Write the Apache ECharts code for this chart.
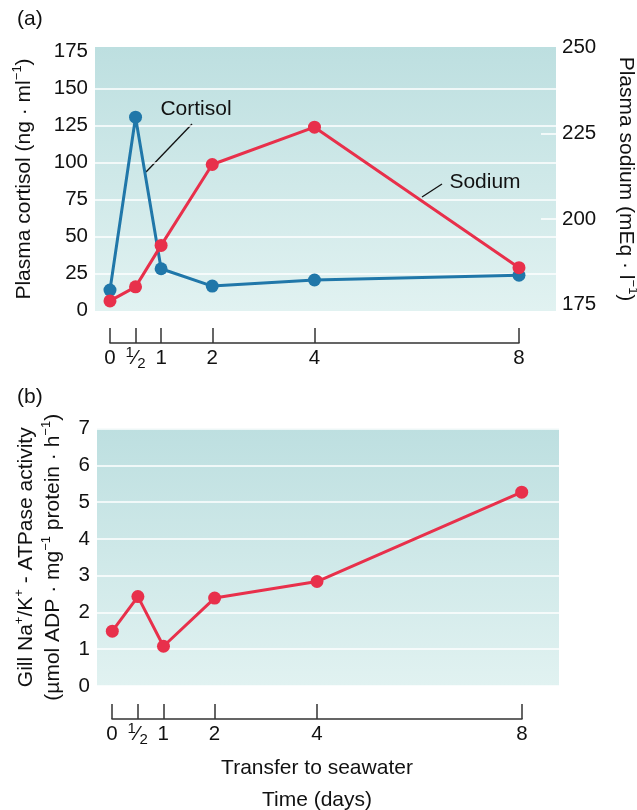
<!DOCTYPE html>
<html>
<head>
<meta charset="utf-8">
<script src="https://cdn.jsdelivr.net/npm/echarts@6/dist/echarts.min.js"></script>
<style>html,body{margin:0;padding:0;background:#fff}#c{width:637px;height:810px}</style>
</head>
<body>
<div id="c"></div>
<script>
// ---- data ----
const days = [0, 0.5, 1, 2, 4, 8];
const dayTicks = [0, 0.5, 1, 2, 4, 8];
const cortisol = [13.8, 130.5, 28.2, 16.5, 20.6, 23.8];
const sodium = [176.1, 180.2, 192.3, 215.9, 226.8, 185.8];
const atpase = [1.49, 2.43, 1.08, 2.39, 2.84, 5.27];
const cortisolTicks = [0, 25, 50, 75, 100, 125, 150, 175];
const cortisolGrid = [25, 50, 75, 100, 125, 150];
const sodiumTicks = [175, 200, 225, 250];
const atpaseTicks = [0, 1, 2, 3, 4, 5, 6, 7];

const FONT = 'Liberation Sans, Arial, Helvetica, sans-serif';
const BLUE = '#2077a9';
const RED = '#e8304b';
const TXT = '#111';

function pairs(xs, ys) { return xs.map((x, i) => [x, ys[i]]); }
function makeBg() {
  return new echarts.graphic.LinearGradient(0, 0, 0, 1, [
    { offset: 0, color: '#bddfe0' },
    { offset: 1, color: '#e1f2f1' }
  ]);
}
const richName = {
  t: { fontSize: 21, fontFamily: FONT, color: TXT, lineHeight: 27, verticalAlign: 'middle' },
  s: { fontSize: 13, fontFamily: FONT, color: TXT, lineHeight: 27, verticalAlign: 'top' }
};
const richTick = {
  v: { fontSize: 20.5, fontFamily: FONT, color: TXT, lineHeight: 26, verticalAlign: 'middle' },
  n: { fontSize: 15, fontFamily: FONT, color: TXT, lineHeight: 26, verticalAlign: 'top' },
  f: { fontSize: 21, fontFamily: FONT, color: TXT, lineHeight: 26, verticalAlign: 'middle' },
  d: { fontSize: 15, fontFamily: FONT, color: TXT, lineHeight: 26, verticalAlign: 'bottom' }
};
const dayFmt = v => (v === 0.5 ? '{n|1}{f|⁄}{d|2}' : '{v|' + v + '}');

function displayAxis(gridIndex) {
  return {
    type: 'value', gridIndex, min: 0, max: 8,
    axisLine: { show: true, lineStyle: { color: '#333', width: 1.5 } },
    axisTick: { show: true, inside: true, length: 15, customValues: dayTicks, lineStyle: { color: '#333', width: 1.5 } },
    axisLabel: { show: true, customValues: dayTicks, formatter: dayFmt, margin: 2, rich: richTick },
    splitLine: { show: false }
  };
}

const option = {
  animation: false,
  backgroundColor: '#fff',
  title: [
    { text: '(a)', left: 12, top: 4, textStyle: { fontSize: 21, fontWeight: 'normal', fontFamily: FONT, color: TXT } },
    { text: '(b)', left: 12, top: 382, textStyle: { fontSize: 21, fontWeight: 'normal', fontFamily: FONT, color: TXT } }
  ],
  grid: [
    { left: 95, top: 47, width: 461, height: 264, show: true, borderWidth: 0, backgroundColor: makeBg(), outerBoundsMode: 'none', containLabel: false },
    { left: 110, top: 343, width: 409, height: 0, outerBoundsMode: 'none', containLabel: false },
    { left: 97, top: 428.5, width: 462, height: 257.5, show: true, borderWidth: 0, backgroundColor: makeBg(), outerBoundsMode: 'none', containLabel: false },
    { left: 112, top: 719, width: 410, height: 0, outerBoundsMode: 'none', containLabel: false }
  ],
  xAxis: [
    { type: 'value', gridIndex: 0, min: -0.293, max: 8.724, show: false },
    displayAxis(1),
    { type: 'value', gridIndex: 2, min: -0.299, max: 8.729, show: false },
    Object.assign(displayAxis(3), {
      name: 'Transfer to seawater\nTime (days)',
      nameLocation: 'middle', nameGap: 33,
      nameTextStyle: { fontSize: 21, fontFamily: FONT, color: TXT, lineHeight: 32 }
    })
  ],
  yAxis: [
    {
      type: 'value', gridIndex: 0, min: -0.34, max: 177.9,
      axisLine: { show: false },
      axisTick: { show: false, customValues: cortisolGrid },
      axisLabel: { customValues: cortisolTicks, margin: 7, fontSize: 20.5, fontFamily: FONT, color: TXT },
      splitLine: { show: true, lineStyle: { color: '#fff', width: 1.5 } },
      name: '{t|Plasma cortisol (ng · ml}{s|−1}{t|)}',
      nameLocation: 'middle', nameRotate: 90, nameGap: 57,
      nameTextStyle: { rich: richName }
    },
    {
      type: 'value', gridIndex: 0, position: 'right', min: 173.16, max: 250.18,
      axisLine: { show: false },
      axisTick: { show: true, inside: true, length: 15, customValues: [200, 225], lineStyle: { color: '#fff', width: 1.5 } },
      axisLabel: { customValues: sodiumTicks, margin: 6, fontSize: 20.5, fontFamily: FONT, color: TXT },
      splitLine: { show: false },
      name: '{t|Plasma sodium (mEq · l}{s|−1}{t|)}',
      nameLocation: 'middle', nameRotate: -90, nameGap: 56,
      nameTextStyle: { rich: richName }
    },
    { type: 'value', gridIndex: 1, min: 0, max: 1, show: false },
    {
      type: 'value', gridIndex: 2, min: 0, max: 7, interval: 1,
      axisLine: { show: false },
      axisTick: { show: false },
      axisLabel: { customValues: atpaseTicks, margin: 7, fontSize: 20.5, fontFamily: FONT, color: TXT },
      splitLine: { show: true, lineStyle: { color: '#fff', width: 1.5 } },
      name: '{t|Gill Na}{s|+}{t|/K}{s|+}{t| - ATPase activity}\n{t|(µmol ADP · mg}{s|−1}{t| protein · h}{s|−1}{t|)}',
      nameLocation: 'middle', nameRotate: 90, nameGap: 30,
      nameTextStyle: { rich: richName }
    },
    { type: 'value', gridIndex: 3, min: 0, max: 1, show: false }
  ],
  series: [
    {
      name: 'Cortisol', type: 'line', xAxisIndex: 0, yAxisIndex: 0,
      data: pairs(days, cortisol),
      symbol: 'circle', symbolSize: 13,
      lineStyle: { color: BLUE, width: 3 }, itemStyle: { color: BLUE }
    },
    {
      name: 'Sodium', type: 'line', xAxisIndex: 0, yAxisIndex: 1,
      data: pairs(days, sodium),
      symbol: 'circle', symbolSize: 13,
      lineStyle: { color: RED, width: 3 }, itemStyle: { color: RED }
    },
    {
      name: 'ATPase', type: 'line', xAxisIndex: 2, yAxisIndex: 3,
      data: pairs(days, atpase),
      symbol: 'circle', symbolSize: 13,
      lineStyle: { color: RED, width: 3 }, itemStyle: { color: RED }
    }
  ],
  graphic: [
    { type: 'text', x: 196, y: 109, style: { text: 'Cortisol', font: '21px ' + FONT, fill: TXT, align: 'center', verticalAlign: 'middle' } },
    { type: 'line', shape: { x1: 192, y1: 124, x2: 146, y2: 172 }, style: { stroke: '#111', lineWidth: 1.3 } },
    { type: 'text', x: 485, y: 182, style: { text: 'Sodium', font: '21px ' + FONT, fill: TXT, align: 'center', verticalAlign: 'middle' } },
    { type: 'line', shape: { x1: 442, y1: 184, x2: 422, y2: 197 }, style: { stroke: '#111', lineWidth: 1.3 } }
  ]
};
const chart = echarts.init(document.getElementById('c'), null, { renderer: 'canvas' });
chart.setOption(option);
</script>
</body>
</html>
